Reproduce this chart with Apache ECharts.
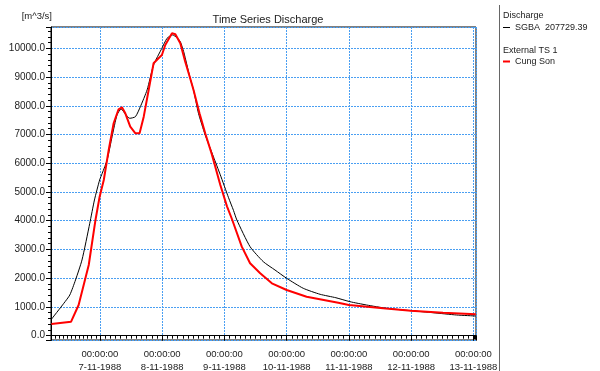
<!DOCTYPE html>
<html>
<head>
<meta charset="utf-8">
<script src="https://cdn.jsdelivr.net/npm/echarts@6/dist/echarts.min.js"></script>
<style>
  html, body { margin: 0; padding: 0; background: #fff; }
  #chart { width: 600px; height: 371px; }
</style>
</head>
<body>
<div id="chart"></div>
<script>
// 数据：小时偏移（相对 7-11-1988 00:00）与流量 m^3/s
const sgbaHours = [-18.7, -13.9, -11.6, -9.4, -6.9, -3.9, -2.1, -0.1, 0.9, 2.8, 4.7, 6.6, 8.2, 9.8, 11.5, 13.7, 15.6, 18.2, 20.7, 23.9, 25.9, 28.0, 29.7, 31.0, 32.3, 34.8, 36.1, 38.0, 40.6, 43.8, 46.4, 49.6, 51.5, 52.8, 57.9, 63.0, 67.5, 72.0, 78.4, 84.9, 91.0, 96.4, 102.8, 110.5, 119.9, 128.4, 137.5, 144.9];
const sgbaValues = [570, 1127, 1416, 1938, 2634, 3911, 4722, 5418, 5650, 6114, 6924, 7680, 7888, 7714, 7564, 7620, 7968, 8550, 9419, 10000, 10348, 10463, 10370, 10230, 9882, 8956, 8550, 7738, 6983, 6220, 5600, 4800, 4360, 4026, 3097, 2575, 2286, 1997, 1649, 1440, 1320, 1183, 1068, 953, 870, 800, 720, 685];

const cungSonHours = [-18.7, -11.1, -8.2, -4.3, -1.7, -0.1, 1.5, 3.4, 5.3, 7.2, 8.5, 9.8, 11.7, 13.7, 15.3, 16.9, 18.8, 20.7, 22.6, 23.9, 25.2, 27.8, 29.1, 31.0, 32.9, 34.8, 36.1, 38.4, 40.6, 43.2, 46.4, 49.0, 50.9, 54.7, 57.9, 61.8, 66.3, 72.0, 79.7, 91.9, 96.0, 109.2, 119.9, 132.3, 144.9];
const cungSonValues = [407, 487, 1068, 2460, 4026, 4837, 5418, 6462, 7390, 7877, 7947, 7738, 7272, 7042, 7042, 7620, 8550, 9478, 9652, 9767, 10115, 10522, 10487, 10174, 9534, 8956, 8550, 7738, 7042, 6300, 5250, 4500, 4060, 3097, 2518, 2171, 1823, 1590, 1357, 1148, 1068, 953, 870, 800, 745];

const seriesNames = ['SGBA  207729.39', 'Cung Son'];
const groupTitles = ['Discharge', 'External TS 1'];

const baseTime = new Date(1988, 10, 7, 0, 0, 0).getTime();
const HOUR = 3600 * 1000;
const DAY = 24 * HOUR;

function toPairs(hours, values) {
    return hours.map(function (h, i) { return [baseTime + h * HOUR, values[i]]; });
}

const pad = function (n) { return (n < 10 ? '0' : '') + n; };
const textColor = '#222';
const gridColor = '#4a9ff2';
const font = 'Liberation Sans';

const chart = echarts.init(document.getElementById('chart'));
const option = {
    animation: false,
    title: {
        text: 'Time Series Discharge',
        left: 263,
        top: 9,
        textAlign: 'center',
        textStyle: { fontFamily: font, fontSize: 11, fontWeight: 'normal', color: textColor }
    },
    grid: {
        left: 51,
        right: 124,
        top: 27,
        bottom: 31,
        outerBoundsMode: 'none',
        containLabel: false,
        show: true,
        borderColor: '#000',
        borderWidth: 1
    },
    legend: [
        {
            data: [seriesNames[0]],
            left: 503,
            top: 23,
            padding: 0,
            icon: 'rect',
            itemWidth: 7,
            itemHeight: 1,
            itemGap: 5,
            textStyle: { fontFamily: font, fontSize: 9, color: textColor }
        },
        {
            data: [seriesNames[1]],
            left: 503,
            top: 57,
            padding: 0,
            icon: 'rect',
            itemWidth: 7,
            itemHeight: 2,
            textStyle: { fontFamily: font, fontSize: 9, color: textColor }
        }
    ],
    graphic: [
        { type: 'line', shape: { x1: 499.5, y1: 5, x2: 499.5, y2: 371 }, style: { stroke: '#666', lineWidth: 1 } },
        { type: 'text', left: 503, top: 11.5, style: { text: groupTitles[0], font: '9px "Liberation Sans"', fill: textColor } },
        { type: 'text', left: 503, top: 46.5, style: { text: groupTitles[1], font: '9px "Liberation Sans"', fill: textColor } }
    ],
    xAxis: {
        type: 'time',
        min: baseTime - 18.85 * HOUR,
        max: baseTime + 145 * HOUR,
        minInterval: DAY,
        maxInterval: DAY,
        axisLine: { lineStyle: { color: '#000' } },
        axisTick: { length: 5, lineStyle: { color: '#000' } },
        minorTick: { show: true, splitNumber: 12, length: 3, lineStyle: { color: '#000' } },
        axisLabel: {
            showMinLabel: false,
            showMaxLabel: false,
            fontFamily: font,
            fontSize: 9.5,
            color: textColor,
            lineHeight: 13,
            margin: 8,
            formatter: function (v) {
                const d = new Date(v);
                return pad(d.getHours()) + ':' + pad(d.getMinutes()) + ':' + pad(d.getSeconds()) + '\n' +
                    d.getDate() + '-' + (d.getMonth() + 1) + '-' + d.getFullYear();
            }
        },
        splitLine: { show: true, lineStyle: { color: gridColor, type: [2, 1], width: 1 } }
    },
    yAxis: {
        type: 'value',
        min: -150,
        max: 10740,
        splitNumber: 11,
        name: '[m^3/s]',
        nameLocation: 'end',
        nameGap: 11,
        nameTextStyle: { fontFamily: font, fontSize: 9.5, color: textColor, align: 'right', verticalAlign: 'middle', padding: [0, -1, 0, 0] },
        axisLine: { show: true, lineStyle: { color: '#000' } },
        axisTick: { show: true, length: 5, lineStyle: { color: '#000' } },
        minorTick: { show: true, splitNumber: 5, length: 3, lineStyle: { color: '#000' } },
        axisLabel: {
            showMinLabel: false,
            showMaxLabel: false,
            fontFamily: font,
            fontSize: 10,
            color: textColor,
            margin: 6,
            formatter: function (v) { return v.toFixed(1); }
        },
        splitLine: { show: true, lineStyle: { color: gridColor, type: [2, 1], width: 1 } }
    },
    series: [
        {
            name: seriesNames[0],
            type: 'line',
            data: toPairs(sgbaHours, sgbaValues),
            showSymbol: false,
            smooth: 0.2,
            color: '#000',
            lineStyle: { color: '#000', width: 1 }
        },
        {
            name: seriesNames[1],
            type: 'line',
            data: toPairs(cungSonHours, cungSonValues),
            showSymbol: false,
            color: '#ff0000',
            lineStyle: { color: '#ff0000', width: 2 }
        }
    ]
};
chart.setOption(option);
</script>
</body>
</html>
